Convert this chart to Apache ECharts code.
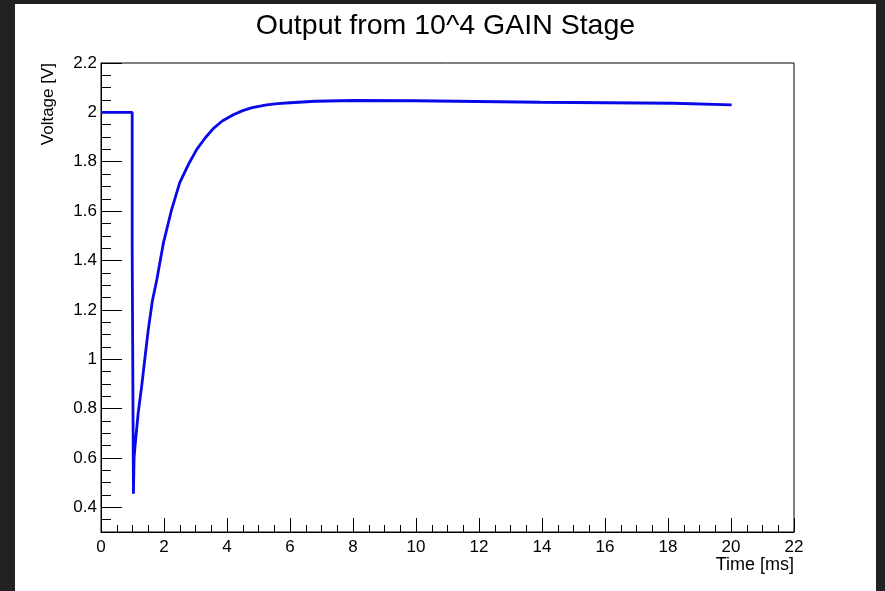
<!DOCTYPE html>
<html>
<head>
<meta charset="utf-8">
<script src="https://cdn.jsdelivr.net/npm/echarts@6/dist/echarts.min.js"></script>
<style>
  html, body { margin: 0; padding: 0; background: #222222; }
  #wrap { position: relative; width: 885px; height: 591px; background: #222222; overflow: hidden; }
  #chart { position: absolute; left: 15px; top: 4px; width: 861px; height: 587px; background: #ffffff; }
</style>
</head>
<body>
<div id="wrap"><div id="chart"></div></div>
<script>
// Data
const timeMs = [0, 0.99, 0.99, 1.03, 1.05, 1.08, 1.18, 1.29, 1.40, 1.50, 1.63, 1.77, 1.98, 2.24, 2.50, 2.80, 3.04, 3.30, 3.57, 3.85, 4.20, 4.50, 4.80, 5.26, 5.60, 6.00, 6.80, 8.00, 9.97, 10.00, 13.94, 13.97, 18.17, 18.20, 20.02];
const voltage = [2.0, 2.0, 1.44, 0.455, 0.60, 0.647, 0.782, 0.889, 1.011, 1.119, 1.236, 1.321, 1.470, 1.605, 1.715, 1.795, 1.850, 1.895, 1.935, 1.965, 1.990, 2.007, 2.019, 2.030, 2.035, 2.039, 2.045, 2.048, 2.047, 2.041, 2.041, 2.037, 2.037, 2.030, 2.030];
const xTickLabels = [0, 2, 4, 6, 8, 10, 12, 14, 16, 18, 20, 22];
const yTickLabels = [0.4, 0.6, 0.8, 1.0, 1.2, 1.4, 1.6, 1.8, 2.0, 2.2];

const points = timeMs.map((t, i) => [t, voltage[i]]);
const FONT = 'Liberation Sans, Arial, Helvetica, sans-serif';

const chart = echarts.init(document.getElementById('chart'), null, { renderer: 'canvas' });
chart.setOption({
  backgroundColor: '#ffffff',
  animation: false,
  title: {
    text: 'Output from 10^4 GAIN Stage',
    left: 'center',
    top: 3,
    textStyle: { fontFamily: FONT, fontSize: 28.5, fontWeight: 'normal', color: '#000' }
  },
  grid: {
    left: 86, top: 59, right: 82, bottom: 59,
    outerBoundsMode: 'none',
    show: true, borderColor: '#000', borderWidth: 1, backgroundColor: 'transparent'
  },
  xAxis: {
    type: 'value',
    min: xTickLabels[0], max: xTickLabels[xTickLabels.length - 1], interval: 2,
    name: 'Time [ms]',
    nameLocation: 'end',
    nameGap: 0,
    nameMoveOverlap: false,
    nameTextStyle: { fontFamily: FONT, fontSize: 18, color: '#000', align: 'right', verticalAlign: 'top', padding: [24, 0, 0, 0] },
    axisLine: { show: true, onZero: false, lineStyle: { color: '#000', width: 1 } },
    axisTick: { show: true, inside: true, length: 14, lineStyle: { color: '#000', width: 1 } },
    minorTick: { show: true, splitNumber: 4, length: 7, lineStyle: { color: '#000', width: 1 } },
    axisLabel: { fontFamily: FONT, fontSize: 17, color: '#000', margin: 7 },
    splitLine: { show: false }
  },
  yAxis: [
    {
      type: 'value',
      min: 0.3, max: 2.2, interval: 0.05,
      name: 'Voltage [V]',
      nameLocation: 'end',
      nameRotate: 90,
      nameGap: 0,
      nameMoveOverlap: false,
      nameTextStyle: { fontFamily: FONT, fontSize: 17, color: '#000', align: 'right', verticalAlign: 'bottom', padding: [0, 0, 44, 0] },
      axisLine: { show: true, onZero: false, lineStyle: { color: '#000', width: 1 } },
      axisTick: { show: true, inside: true, length: 10, lineStyle: { color: '#000', width: 1 } },
      axisLabel: {
        fontFamily: FONT, fontSize: 17, color: '#000', margin: 4,
        customValues: yTickLabels,
        formatter: v => String(Math.round(v * 10) / 10)
      },
      splitLine: { show: false }
    },
    {
      type: 'value',
      min: 0.3, max: 2.2,
      position: 'left',
      axisLine: { show: false },
      axisTick: { show: true, inside: true, length: 21, customValues: yTickLabels, lineStyle: { color: '#000', width: 1 } },
      axisLabel: { show: false },
      splitLine: { show: false }
    }
  ],
  series: [{
    type: 'line',
    data: points,
    showSymbol: false,
    smooth: false,
    lineStyle: { color: '#0808e8', width: 2.8 },
    itemStyle: { color: '#0808e8' },
    z: 1
  }]
});
</script>
</body>
</html>
